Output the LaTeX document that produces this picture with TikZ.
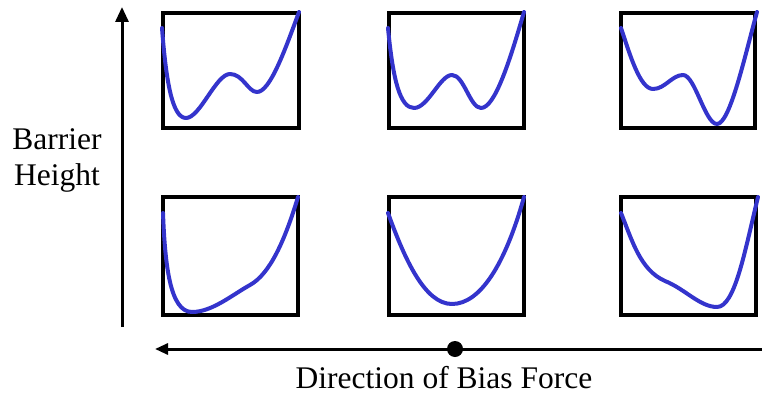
\documentclass[tikz,border=0pt]{standalone}
\usepackage{fontspec}
\setmainfont{Liberation Serif}
\usetikzlibrary{arrows.meta}
\definecolor{curveblue}{RGB}{52,52,204}
\tikzset{
  box/.style={draw=black, line width=4pt, inner sep=0pt, minimum width=#1},
  pot/.style={draw=curveblue, line width=4pt, line cap=round, line join=round},
  axis/.style={draw=black, line width=3pt},
  lbl/.style={font=\fontsize{31.5}{36}\selectfont, inner sep=0pt, anchor=base}
}
\begin{document}
\begin{tikzpicture}[x=1pt, y=-1pt]
\useasboundingbox (0,0) rectangle (762,393);
% boxes
\node[box=136pt, minimum height=115pt] (b1) at (231,70.5) {};
\node[box=135pt, minimum height=115pt] (b2) at (456.5,70.5) {};
\node[box=134pt, minimum height=115pt] (b3) at (688,70.5) {};
\node[box=135pt, minimum height=118pt] (b4) at (230.5,256) {};
\node[box=135pt, minimum height=118pt] (b5) at (456.5,256) {};
\node[box=135pt, minimum height=118pt] (b6) at (688.5,256) {};
% potentials
\draw[pot] (162,28) .. controls (166,80) and (172,118) .. (186,118)
  .. controls (200,118) and (216,74) .. (230,74)
  .. controls (243,74) and (248,92) .. (257,92)
  .. controls (270,92) and (285,50) .. (299,12);
\draw[pot] (388,28) .. controls (393,80) and (400,108) .. (414,108)
  .. controls (428,108) and (440,75) .. (452,75)
  .. controls (464,75) and (470,108) .. (481,108)
  .. controls (495,108) and (510,60) .. (524,12);
\draw[pot] (621,28) .. controls (630,55) and (640,89) .. (653,89)
  .. controls (665,89) and (672,75) .. (683,75)
  .. controls (695,75) and (705,124) .. (717,124)
  .. controls (730,124) and (745,55) .. (757,12);
\draw[pot] (163,213) .. controls (165,265) and (170,312) .. (192,312)
  .. controls (212,312) and (232,295) .. (250,285)
  .. controls (270,274) and (285,240) .. (298,197);
\draw[pot] (388,213) .. controls (405,260) and (425,304) .. (452,304)
  .. controls (480,304) and (505,265) .. (524,197);
\draw[pot] (621,213) .. controls (632,240) and (640,270) .. (665,281)
  .. controls (685,289) and (700,307) .. (717,307)
  .. controls (735,307) and (745,250) .. (758,197);
% axes
\coordinate (vb) at (122,327);
\coordinate (vt) at (122,7);
\draw[axis, -{Triangle[length=15pt, width=13pt]}] (vb) -- (vt);
\coordinate (hr) at (763,349);
\coordinate (hl) at (155,349);
\draw[axis, -{Triangle[length=13pt, width=11pt]}] (hr) -- (hl);
\node[circle, fill=black, inner sep=0pt, minimum size=16pt] (dot) at (455,349) {};
% labels
\node[lbl] (bar) at (57,149) {Barrier};
\node[lbl] (hei) at (57,185) {Height};
\node[lbl] (dir) at (444,388) {Direction of Bias Force};
\end{tikzpicture}
\end{document}
